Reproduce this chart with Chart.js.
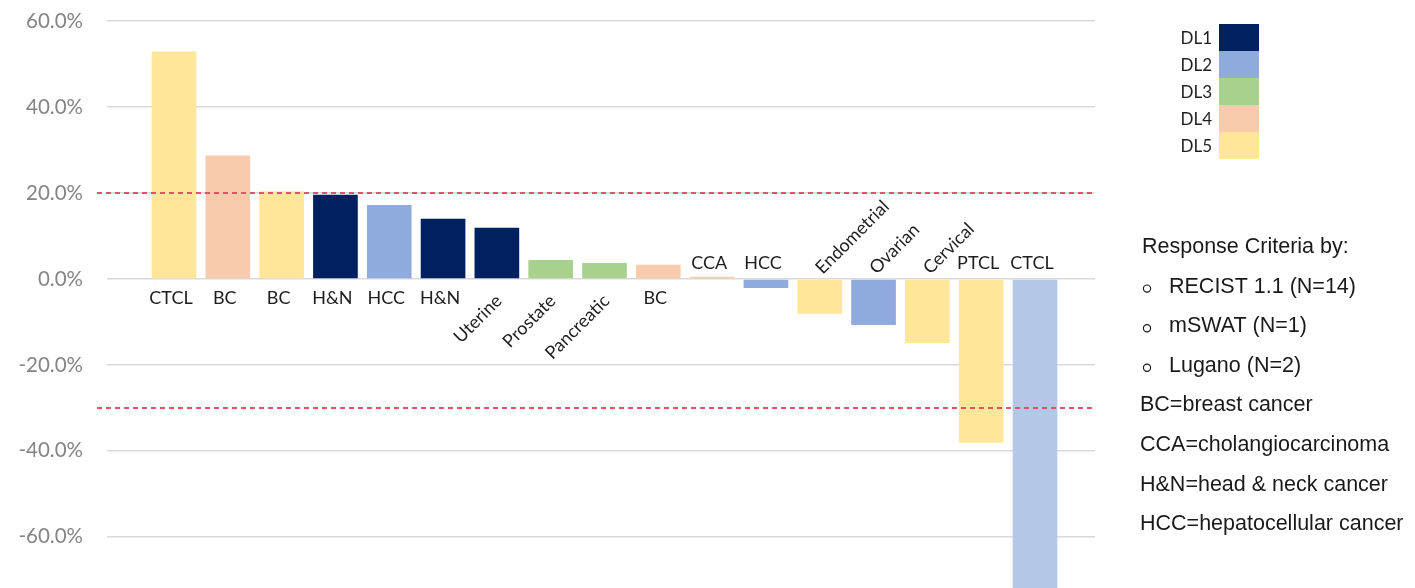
<!DOCTYPE html>
<html>
<head>
<meta charset="utf-8">
<title>Best change in tumor size by patient</title>
<script src="https://cdn.jsdelivr.net/npm/chart.js@4/dist/chart.umd.min.js"></script>
<style>
  html, body { margin: 0; padding: 0; background: #ffffff; }
  #wrap { width: 1415px; height: 588px; }
</style>
</head>
<body>
<div id="wrap"><canvas id="chart" width="1415" height="588"></canvas></div>
<script>
// Tumor type of each patient, ordered by best percent change from baseline
const tumorTypes = ['CTCL', 'BC', 'BC', 'H&N', 'HCC', 'H&N', 'Uterine', 'Prostate', 'Pancreatic',
                    'BC', 'CCA', 'HCC', 'Endometrial', 'Ovarian', 'Cervical', 'PTCL', 'CTCL'];
// Best percent change in tumor burden
const bestChange = [52.9, 28.7, 20.4, 19.6, 17.2, 14.0, 11.9, 4.4, 3.7,
                    3.3, 0.5, -2.1, -8.1, -10.7, -14.9, -38.1, -76.0];
// Dose level of each patient (1..5)
const doseLevel = [5, 4, 5, 1, 2, 1, 1, 3, 3, 4, 4, 2, 5, 2, 5, 5, 2];
const doseLevelNames = ['DL1', 'DL2', 'DL3', 'DL4', 'DL5'];
// Y axis ticks and response thresholds (progression / partial response)
const yTicks = [-60, -40, -20, 0, 20, 40, 60];
const thresholds = [20, -30];
// Side notes
const criteriaTitle = 'Response Criteria by:';
const criteriaItems = ['RECIST 1.1 (N=14)', 'mSWAT (N=1)', 'Lugano (N=2)'];
const abbreviations = ['BC=breast cancer', 'CCA=cholangiocarcinoma',
                       'H&N=head & neck cancer', 'HCC=hepatocellular cancer'];

// Styling
const levelColors = ['#002060', '#8FAADC', '#A9D18E', '#F8CBAD', '#FFE699'];
const barColors = ['#FFE699', '#F8CBAD', '#FFE699', '#002060', '#8FAADC', '#002060', '#002060', '#A9D18E', '#A9D18E',
                   '#F8CBAD', '#F8CBAD', '#8FAADC', '#FFE699', '#8FAADC', '#FFE699', '#FFE699', '#B4C7E7'];
const labelFont = '18px Lato, "DejaVu Sans", sans-serif';
const keyFont = '17px Lato, "DejaVu Sans", sans-serif';
const noteFont = '21.5px "Liberation Sans", Arial, sans-serif';

const annotations = {
  id: 'annotations',
  afterDatasetsDraw(chart) {
    const { ctx, chartArea, scales: { y } } = chart;
    const bars = chart.getDatasetMeta(0).data;
    const zeroY = y.getPixelForValue(0);

    ctx.save();
    // dashed threshold lines
    ctx.strokeStyle = '#DE5468';
    ctx.lineWidth = 2;
    ctx.setLineDash([5, 4]);
    thresholds.forEach(t => {
      const py = Math.round(y.getPixelForValue(t));
      ctx.beginPath();
      ctx.moveTo(chartArea.left - 10, py);
      ctx.lineTo(chartArea.right - 3, py);
      ctx.stroke();
    });
    ctx.setLineDash([]);

    // tumor type labels next to the zero line
    ctx.fillStyle = '#1e1e1e';
    ctx.font = labelFont;
    tumorTypes.forEach((name, i) => {
      const bx = bars[i].x;
      const above = bestChange[i] < 1;
      const rotated = name.length > 4;
      ctx.save();
      if (rotated) {
        ctx.textBaseline = 'middle';
        if (above) {
          ctx.translate(bx - 1, zeroY - 8);
          ctx.rotate(-Math.PI / 4);
          ctx.textAlign = 'left';
        } else {
          ctx.translate(bx + 2, zeroY + 19);
          ctx.rotate(-Math.PI / 4);
          ctx.textAlign = 'right';
        }
        ctx.fillText(name, 0, 0);
      } else {
        ctx.textAlign = 'center';
        ctx.textBaseline = 'middle';
        ctx.fillText(name, bx - 3, above ? zeroY - 16 : zeroY + 19);
      }
      ctx.restore();
    });

    // dose level key
    const keyX = 1219, keyTop = 24, keyW = 40, keyH = 27;
    doseLevelNames.forEach((name, i) => {
      ctx.fillStyle = levelColors[i];
      ctx.fillRect(keyX, keyTop + i * keyH, keyW, keyH);
      ctx.fillStyle = '#1e1e1e';
      ctx.font = keyFont;
      ctx.textAlign = 'right';
      ctx.textBaseline = 'middle';
      ctx.fillText(name, keyX - 7, keyTop + i * keyH + keyH / 2 + 1);
    });

    // response criteria and abbreviations
    ctx.font = noteFont;
    ctx.fillStyle = '#1a1a1a';
    ctx.textAlign = 'left';
    ctx.textBaseline = 'middle';
    const noteX = 1142, step = 39.6;
    let ny = 247;
    ctx.fillText(criteriaTitle, noteX, ny);
    criteriaItems.forEach(item => {
      ny += step;
      ctx.beginPath();
      ctx.lineWidth = 1.2;
      ctx.strokeStyle = '#1a1a1a';
      ctx.arc(noteX + 5, ny + 2, 3.6, 0, Math.PI * 2);
      ctx.stroke();
      ctx.fillText(item, noteX + 27, ny);
    });
    abbreviations.forEach(line => {
      ny += step;
      ctx.fillText(line, noteX - 2, ny);
    });
    ctx.restore();
  }
};

new Chart(document.getElementById('chart'), {
  type: 'bar',
  data: {
    datasets: [{
      data: bestChange.map((v, i) => ({ x: i, y: v })),
      backgroundColor: barColors,
      borderWidth: 0,
      barPercentage: 0.83,
      categoryPercentage: 1.0
    }]
  },
  options: {
    responsive: false,
    animation: false,
    layout: { padding: { left: 0, right: 320, top: 21, bottom: 0 } },
    plugins: { legend: { display: false }, tooltip: { enabled: false } },
    scales: {
      x: {
        type: 'linear',
        offset: false,
        min: -1.245,
        max: 17.115,
        display: false
      },
      y: {
        min: -71.9,
        max: 60,
        afterBuildTicks: scale => { scale.ticks = yTicks.map(v => ({ value: v })); },
        afterFit: scale => {
          scale.width = 107;
          scale.paddingTop = 0;
          scale.paddingBottom = 0;
        },
        border: { display: false },
        grid: { color: '#d9d9d9', lineWidth: 1.5, drawTicks: false },
        ticks: {
          padding: 24,
          color: '#858585',
          font: { family: 'Lato', size: 20.5 },
          callback: v => v.toFixed(1) + '%'
        }
      }
    }
  },
  plugins: [annotations]
});
</script>
</body>
</html>
